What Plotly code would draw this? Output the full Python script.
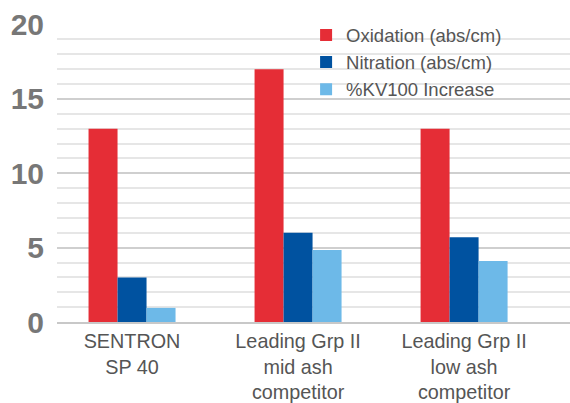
import plotly.graph_objects as go

categories = ["SENTRON<br>SP 40", "Leading Grp II<br>mid ash<br>competitor", "Leading Grp II<br>low ash<br>competitor"]
oxidation = [13, 17, 13]
nitration = [3, 6, 5.7]
kv100 = [0.95, 4.85, 4.1]
series_names = ["Oxidation (abs/cm)", "Nitration (abs/cm)", "%KV100 Increase"]
colors = ["#E52D36", "#0052A0", "#6DB9E8"]
ytick_vals = [0, 5, 10, 15, 20]

fig = go.Figure()
for i, (name, vals, c) in enumerate(zip(series_names, [oxidation, nitration, kv100], colors)):
    fig.add_trace(go.Bar(x=categories, y=vals, name=name, marker=dict(color=c, line=dict(width=0)),
                         legendgroup=f"g{i}"))

fig.update_layout(
    width=570, height=403,
    margin=dict(l=57, r=0, t=24, b=81, autoexpand=False),
    plot_bgcolor="white", paper_bgcolor="white",
    barmode="group", bargap=0.476, bargroupgap=0,
    font=dict(family="Liberation Sans, Arial, sans-serif", color="#555555"),
    legend=dict(x=0.537, y=0.959, xref="container", yref="container",
                xanchor="left", yanchor="top",
                font=dict(size=18.5, color="#555555"), bgcolor="rgba(0,0,0,0)",
                tracegroupgap=3, traceorder="normal"),
    showlegend=True,
)
fig.update_xaxes(
    type="category", range=[-0.452, 2.638], automargin=False,
    showline=True, linecolor="#c8c8c8", linewidth=2,
    ticks="outside", ticklen=0, tickcolor="rgba(0,0,0,0)",
    tickfont=dict(size=19.8, color="#555555"),
    showgrid=False,
)
fig.update_yaxes(
    range=[0, 20.04], tickvals=ytick_vals, automargin=False,
    showgrid=True, gridcolor="#cfcfcf", gridwidth=1.5,
    minor=dict(tickvals=list(range(1, 20)), showgrid=True, gridcolor="#e6e6e6", gridwidth=1.5),
    zeroline=False,
    ticks="outside", ticklen=6, tickcolor="rgba(0,0,0,0)",
    tickfont=dict(size=30, color="#777777", family="Liberation Sans, Arial, sans-serif", weight="bold"),
)
fig.write_html("out.html", config={"displayModeBar": False},
               post_script="document.body.style.margin='0';document.body.style.padding='0';")
